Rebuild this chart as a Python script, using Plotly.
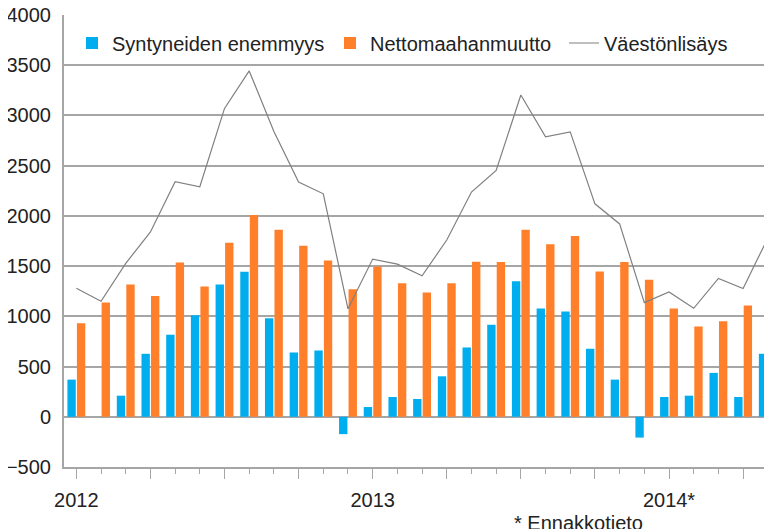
import plotly.graph_objects as go

months = ["2012M01","2012M02","2012M03","2012M04","2012M05","2012M06","2012M07","2012M08","2012M09","2012M10","2012M11","2012M12",
          "2013M01","2013M02","2013M03","2013M04","2013M05","2013M06","2013M07","2013M08","2013M09","2013M10","2013M11","2013M12",
          "2014M01","2014M02","2014M03","2014M04","2014M05"]
syntyneiden = [370, 0, 210, 627, 817, 1010, 1317, 1443, 980, 640, 660, -173,
               97, 197, 177, 403, 690, 917, 1350, 1077, 1047, 677, 370, -207,
               197, 210, 437, 197, 627]
netto = [930, 1137, 1317, 1203, 1537, 1297, 1733, 2010, 1863, 1703, 1557, 1270,
         1497, 1330, 1237, 1330, 1543, 1540, 1863, 1717, 1800, 1447, 1540, 1363,
         1077, 900, 950, 1107, 1173]
vaesto = [1280, 1150, 1527, 1840, 2340, 2290, 3070, 3443, 2840, 2337, 2220, 1075,
          1570, 1520, 1403, 1760, 2237, 2453, 3203, 2787, 2837, 2120, 1920, 1137,
          1243, 1080, 1377, 1277, 1780]
year_labels = {0: "2012", 12: "2013", 24: "2014*"}
names = ["Syntyneiden enemmyys", "Nettomaahanmuutto", "Väestönlisäys"]

x = list(range(len(months)))
FONT = "Liberation Sans, Arial, sans-serif"
TXT = "#222222"
GRID = "#A6A6A6"

fig = go.Figure()
fig.add_trace(go.Bar(x=x, y=syntyneiden, name=names[0], marker_color="#00AEEF",
                     marker_line_width=0, legend="legend", customdata=months))
fig.add_trace(go.Bar(x=x, y=netto, name=names[1], marker_color="#FF7F2A",
                     marker_line_width=0, legend="legend2", customdata=months))
fig.add_trace(go.Scatter(x=x, y=vaesto, name=names[2], mode="lines",
                         line=dict(color="#808080", width=1.2), legend="legend3",
                         customdata=months))

# the page body has an 8px margin, so the figure is drawn 8px in from the window corner
OFF = 8
WIN_W, WIN_H = 772, 529
W, H = WIN_W - OFF, WIN_H - OFF
PL, PT, PB, PR = 64, 15, 467, 772   # plot area in window pixels
L, T = PL - OFF, PT - OFF
B = H - (PB - OFF)
pw = PR - PL
ph = PB - PT

def px2paper_x(px):
    return (px - PL) / pw

def py2paper_y(py):
    return (PB - py) / ph

leg_common = dict(orientation="h", bgcolor="rgba(0,0,0,0)", borderwidth=0,
                  font=dict(family=FONT, size=20, color=TXT), visible=True,
                  xanchor="left", yanchor="middle", y=py2paper_y(43))

tickvals = list(range(0, len(months), 3))
ticktext = [year_labels.get(v, "") for v in tickvals]

fig.update_layout(
    width=W, height=H,
    margin=dict(l=L, r=0, t=T, b=B, pad=0),
    paper_bgcolor="white", plot_bgcolor="white",
    showlegend=True,
    barmode="group", bargap=0.23, bargroupgap=0.12,
    font=dict(family=FONT, size=20, color=TXT),
    legend=dict(x=px2paper_x(72), **leg_common),
    legend2=dict(x=px2paper_x(330), **leg_common),
    legend3=dict(x=px2paper_x(564), **leg_common),
    xaxis=dict(range=[-0.5, 28.17], tickmode="array", tickvals=tickvals, ticktext=ticktext,
               ticks="outside", ticklen=10, tickcolor=GRID, tickwidth=1, automargin=False,
               ticklabeloverflow="allow",
               minor=dict(dtick=1, tick0=0, ticks="outside", ticklen=5, tickcolor=GRID, showgrid=False),
               showgrid=False, showline=True, linecolor=GRID, linewidth=2, zeroline=False,
               tickfont=dict(family=FONT, size=20, color=TXT), ticklabelstandoff=4),
    yaxis=dict(range=[-500, 4000], dtick=500, tick0=0, showgrid=True, gridcolor=GRID, gridwidth=1.5,
               zeroline=True, zerolinecolor=GRID, zerolinewidth=2, automargin=False,
               ticklabeloverflow="allow",
               showline=True, linecolor=GRID, linewidth=2, ticks="",
               tickfont=dict(family=FONT, size=20, color=TXT), ticklabelstandoff=7),
    annotations=[dict(text="* Ennakkotieto", xref="paper", yref="paper",
                      x=px2paper_x(578), y=py2paper_y(523), xanchor="center", yanchor="middle",
                      showarrow=False, font=dict(family=FONT, size=20, color=TXT))],
)

fig.write_html("out.html")
